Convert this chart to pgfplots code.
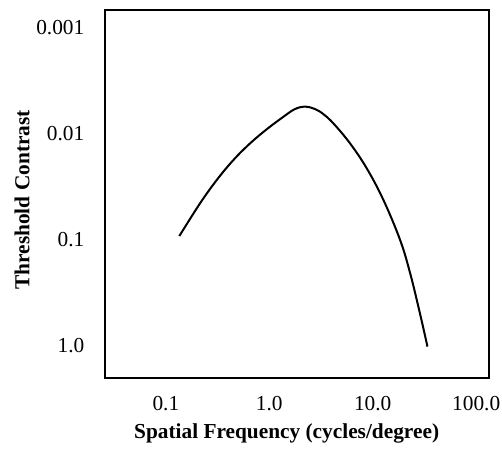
\documentclass[border=0pt]{standalone}
\usepackage{fontspec}
\setmainfont{Liberation Serif}
\usepackage{pgfplots}
\pgfplotsset{compat=1.18}

\begin{document}
\begin{tikzpicture}
  \begin{axis}[
    name=ax,
    scale only axis,
    width=288pt, height=276pt,
    xmode=log, ymode=log,
    y dir=reverse,
    xmin=0.0258, xmax=133,
    ymin=0.000679, ymax=2.04,
    xtick={0.1,1,10,100},
    xticklabels={0.1,1.0,10.0,100.0},
    ytick={0.001,0.01,0.1,1},
    yticklabels={0.001,0.01,0.1,1.0},
    minor tick num=0,
    major tick length=0pt,
    minor tick length=0pt,
    axis line style={line width=2.2pt},
    font=\fontsize{16}{18}\selectfont,
    /pgf/number format/assume math mode=true,
    xticklabel style={yshift=-10pt},
    yticklabel style={xshift=-12pt},
    xlabel={\textbf{Spatial Frequency (cycles/degree)}},
    ylabel={\textbf{Threshold Contrast}},
    xlabel style={at={(axis description cs:0.473,-0.152)}, anchor=center},
    ylabel style={at={(axis description cs:-0.216,0.484)}, anchor=center},
  ]
  \addplot[black, line width=1.5pt, smooth, tension=0.6] coordinates {
    (0.135,0.0929) (0.214,0.0456) (0.310,0.0275) (0.449,0.0178)
    (0.650,0.0124) (0.944,0.0091) (1.365,0.00695) (1.75,0.00590)
    (2.2,0.00555) (2.75,0.00585) (3.3,0.00650) (4.16,0.0080) (6.03,0.01236)
    (8.75,0.0213) (12.7,0.0425) (18.4,0.1014) (23.0,0.209)
    (28.6,0.500) (33.8,1.03)
  };
  \end{axis}
  \pgfresetboundingbox
  \path (ax.south west) ++(-78.75pt,-56.25pt) rectangle ++(376.5pt,339.75pt);
\end{tikzpicture}
\end{document}
